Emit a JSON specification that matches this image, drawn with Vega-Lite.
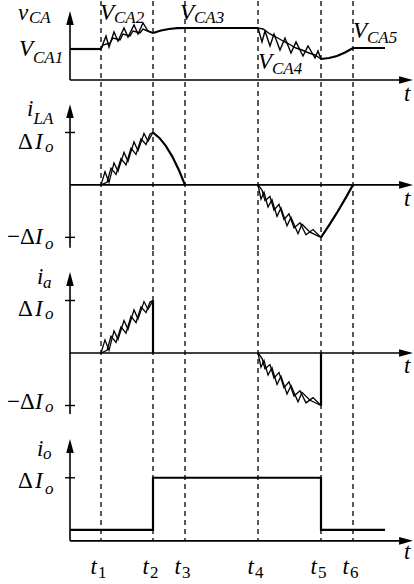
{
  "$schema": "https://vega.github.io/schema/vega-lite/v6.json",
  "padding": 0,
  "spacing": 0,
  "bounds": "flush",
  "background": "white",
  "config": {
    "view": {"stroke": null},
    "text": {"font": "Times New Roman, Liberation Serif, serif", "color": "black", "align": "left", "baseline": "alphabetic"},
    "line": {"color": "black"},
    "rule": {"color": "black"}
  },
  "datasets": {
    "switch_times": [
      {"time": 31, "label": "t1"}, {"time": 83, "label": "t2"}, {"time": 115, "label": "t3"},
      {"time": 188, "label": "t4"}, {"time": 251, "label": "t5"}, {"time": 283, "label": "t6"}
    ],
    "vca_wave": [
      {"s": "a", "k": 0, "time": 0, "v": 3.1}, {"s": "a", "k": 1, "time": 31, "v": 3.1},
      {"s": "b", "k": 0, "time": 83, "v": 4.7}, {"s": "b", "k": 1, "time": 91, "v": 4.95}, {"s": "b", "k": 2, "time": 99, "v": 5.1},
      {"s": "b", "k": 3, "time": 107, "v": 5.18}, {"s": "b", "k": 4, "time": 115, "v": 5.2}, {"s": "b", "k": 5, "time": 188, "v": 5.2},
      {"s": "c", "k": 0, "time": 251, "v": 2.1}, {"s": "c", "k": 1, "time": 259, "v": 2.2}, {"s": "c", "k": 2, "time": 267, "v": 2.4},
      {"s": "c", "k": 3, "time": 275, "v": 2.75}, {"s": "c", "k": 4, "time": 283, "v": 3.2}, {"s": "c", "k": 5, "time": 315, "v": 3.2}
    ],
    "vca_ripple": [
      {"s": "r1", "k": 0, "time": 31, "v": 3.1}, {"s": "r1", "k": 1, "time": 36, "v": 4.4}, {"s": "r1", "k": 2, "time": 39, "v": 3.3},
      {"s": "r1", "k": 3, "time": 44, "v": 4.8}, {"s": "r1", "k": 4, "time": 48, "v": 3.9}, {"s": "r1", "k": 5, "time": 54, "v": 5.2},
      {"s": "r1", "k": 6, "time": 58, "v": 4.3}, {"s": "r1", "k": 7, "time": 64, "v": 5.5}, {"s": "r1", "k": 8, "time": 68, "v": 4.6},
      {"s": "r1", "k": 9, "time": 73, "v": 5.7}, {"s": "r1", "k": 10, "time": 78, "v": 4.9}, {"s": "r1", "k": 11, "time": 83, "v": 4.7},
      {"s": "r2", "k": 0, "time": 31, "v": 3.1}, {"s": "r2", "k": 1, "time": 33, "v": 3.5}, {"s": "r2", "k": 2, "time": 40, "v": 3.7},
      {"s": "r2", "k": 3, "time": 43, "v": 4.2}, {"s": "r2", "k": 4, "time": 50, "v": 4.0}, {"s": "r2", "k": 5, "time": 53, "v": 4.6},
      {"s": "r2", "k": 6, "time": 60, "v": 4.4}, {"s": "r2", "k": 7, "time": 63, "v": 4.9}, {"s": "r2", "k": 8, "time": 70, "v": 4.7},
      {"s": "r2", "k": 9, "time": 73, "v": 5.1}, {"s": "r2", "k": 10, "time": 80, "v": 4.8}, {"s": "r2", "k": 11, "time": 83, "v": 4.7},
      {"s": "f1", "k": 0, "time": 188, "v": 5.2}, {"s": "f1", "k": 1, "time": 192, "v": 3.8}, {"s": "f1", "k": 2, "time": 195, "v": 4.9},
      {"s": "f1", "k": 3, "time": 200, "v": 3.4}, {"s": "f1", "k": 4, "time": 204, "v": 4.6}, {"s": "f1", "k": 5, "time": 210, "v": 3.0},
      {"s": "f1", "k": 6, "time": 215, "v": 4.2}, {"s": "f1", "k": 7, "time": 221, "v": 2.7}, {"s": "f1", "k": 8, "time": 226, "v": 3.8},
      {"s": "f1", "k": 9, "time": 233, "v": 2.4}, {"s": "f1", "k": 10, "time": 238, "v": 3.4}, {"s": "f1", "k": 11, "time": 245, "v": 2.2},
      {"s": "f1", "k": 12, "time": 248, "v": 2.9}, {"s": "f1", "k": 13, "time": 251, "v": 2.1},
      {"s": "f2", "k": 0, "time": 188, "v": 5.2}, {"s": "f2", "k": 1, "time": 193, "v": 5.1}, {"s": "f2", "k": 2, "time": 200, "v": 4.6},
      {"s": "f2", "k": 3, "time": 206, "v": 4.3}, {"s": "f2", "k": 4, "time": 213, "v": 3.9}, {"s": "f2", "k": 5, "time": 219, "v": 3.6},
      {"s": "f2", "k": 6, "time": 226, "v": 3.2}, {"s": "f2", "k": 7, "time": 232, "v": 3.0}, {"s": "f2", "k": 8, "time": 239, "v": 2.7},
      {"s": "f2", "k": 9, "time": 245, "v": 2.5}, {"s": "f2", "k": 10, "time": 251, "v": 2.1}
    ],
    "i_ripple": [
      {"s": "p1", "k": 0, "time": 31, "v": 0}, {"s": "p1", "k": 1, "time": 35, "v": 0.25}, {"s": "p1", "k": 2, "time": 39, "v": 0.05},
      {"s": "p1", "k": 3, "time": 44, "v": 0.42}, {"s": "p1", "k": 4, "time": 48, "v": 0.26}, {"s": "p1", "k": 5, "time": 54, "v": 0.62},
      {"s": "p1", "k": 6, "time": 58, "v": 0.45}, {"s": "p1", "k": 7, "time": 64, "v": 0.82}, {"s": "p1", "k": 8, "time": 68, "v": 0.65},
      {"s": "p1", "k": 9, "time": 74, "v": 0.98}, {"s": "p1", "k": 10, "time": 78, "v": 0.83}, {"s": "p1", "k": 11, "time": 83, "v": 1.0},
      {"s": "p2", "k": 0, "time": 31, "v": 0}, {"s": "p2", "k": 1, "time": 37, "v": 0.05}, {"s": "p2", "k": 2, "time": 41, "v": 0.32},
      {"s": "p2", "k": 3, "time": 46, "v": 0.2}, {"s": "p2", "k": 4, "time": 51, "v": 0.5}, {"s": "p2", "k": 5, "time": 56, "v": 0.38},
      {"s": "p2", "k": 6, "time": 61, "v": 0.7}, {"s": "p2", "k": 7, "time": 66, "v": 0.58}, {"s": "p2", "k": 8, "time": 71, "v": 0.88},
      {"s": "p2", "k": 9, "time": 76, "v": 0.77}, {"s": "p2", "k": 10, "time": 80, "v": 0.97}, {"s": "p2", "k": 11, "time": 83, "v": 1.0},
      {"s": "n1", "k": 0, "time": 188, "v": 0}, {"s": "n1", "k": 1, "time": 191, "v": -0.27}, {"s": "n1", "k": 2, "time": 194, "v": -0.14},
      {"s": "n1", "k": 3, "time": 198, "v": -0.42}, {"s": "n1", "k": 4, "time": 202, "v": -0.28}, {"s": "n1", "k": 5, "time": 207, "v": -0.6},
      {"s": "n1", "k": 6, "time": 211, "v": -0.44}, {"s": "n1", "k": 7, "time": 217, "v": -0.78}, {"s": "n1", "k": 8, "time": 221, "v": -0.62},
      {"s": "n1", "k": 9, "time": 228, "v": -0.93}, {"s": "n1", "k": 10, "time": 232, "v": -0.75}, {"s": "n1", "k": 11, "time": 240, "v": -0.9},
      {"s": "n1", "k": 12, "time": 251, "v": -1.0},
      {"s": "n2", "k": 0, "time": 188, "v": 0}, {"s": "n2", "k": 1, "time": 192, "v": -0.1}, {"s": "n2", "k": 2, "time": 195, "v": -0.3},
      {"s": "n2", "k": 3, "time": 200, "v": -0.22}, {"s": "n2", "k": 4, "time": 204, "v": -0.48}, {"s": "n2", "k": 5, "time": 209, "v": -0.37},
      {"s": "n2", "k": 6, "time": 214, "v": -0.66}, {"s": "n2", "k": 7, "time": 219, "v": -0.55}, {"s": "n2", "k": 8, "time": 224, "v": -0.82},
      {"s": "n2", "k": 9, "time": 230, "v": -0.72}, {"s": "n2", "k": 10, "time": 236, "v": -0.95}, {"s": "n2", "k": 11, "time": 243, "v": -0.85},
      {"s": "n2", "k": 12, "time": 251, "v": -1.0}
    ],
    "ila_wave": [
      {"s": "a", "k": 0, "time": 83, "v": 1.0}, {"s": "a", "k": 1, "time": 89.4, "v": 0.896}, {"s": "a", "k": 2, "time": 95.8, "v": 0.744},
      {"s": "a", "k": 3, "time": 102.2, "v": 0.544}, {"s": "a", "k": 4, "time": 108.6, "v": 0.296}, {"s": "a", "k": 5, "time": 115, "v": 0},
      {"s": "b", "k": 0, "time": 251, "v": -1.0}, {"s": "b", "k": 1, "time": 259, "v": -0.77}, {"s": "b", "k": 2, "time": 267, "v": -0.53},
      {"s": "b", "k": 3, "time": 275, "v": -0.27}, {"s": "b", "k": 4, "time": 283, "v": 0}
    ],
    "ia_wave": [
      {"s": "a", "k": 0, "time": 83, "v": 1.0}, {"s": "a", "k": 1, "time": 83, "v": 0},
      {"s": "b", "k": 0, "time": 251, "v": -1.0}, {"s": "b", "k": 1, "time": 251, "v": 0}
    ],
    "io_wave": [
      {"s": "a", "k": 0, "time": 0, "v": 0.175}, {"s": "a", "k": 1, "time": 83, "v": 0.175}, {"s": "a", "k": 2, "time": 83, "v": 1.0},
      {"s": "a", "k": 3, "time": 251, "v": 1.0}, {"s": "a", "k": 4, "time": 251, "v": 0.175}, {"s": "a", "k": 5, "time": 315, "v": 0.175}
    ],
    "labels": [
      {"panel": 1, "kind": "symbol", "text": "v", "time": -52, "v": 6.05},
      {"panel": 1, "kind": "symbol", "text": "V", "time": -51, "v": 2.4},
      {"panel": 1, "kind": "symbol", "text": "V", "time": 30, "v": 6.05},
      {"panel": 1, "kind": "symbol", "text": "V", "time": 110, "v": 6.05},
      {"panel": 1, "kind": "symbol", "text": "V", "time": 188, "v": 1.1},
      {"panel": 1, "kind": "symbol", "text": "V", "time": 283, "v": 4.2},
      {"panel": 1, "kind": "symbol", "text": "t", "time": 334, "v": -2.05},
      {"panel": 1, "kind": "sub", "text": "CA", "time": -41, "v": 5.7},
      {"panel": 1, "kind": "sub", "text": "CA1", "time": -37, "v": 1.7},
      {"panel": 1, "kind": "sub", "text": "CA2", "time": 44, "v": 5.7},
      {"panel": 1, "kind": "sub", "text": "CA3", "time": 124, "v": 5.7},
      {"panel": 1, "kind": "sub", "text": "CA4", "time": 202, "v": 0.6},
      {"panel": 1, "kind": "sub", "text": "CA5", "time": 297, "v": 3.7},
      {"panel": 2, "kind": "symbol", "text": "i", "time": -43, "v": 1.31},
      {"panel": 2, "kind": "symbol", "text": "I", "time": -35, "v": 0.68},
      {"panel": 2, "kind": "symbol", "text": "I", "time": -35, "v": -1.13},
      {"panel": 2, "kind": "symbol", "text": "t", "time": 334, "v": -0.4},
      {"panel": 2, "kind": "sub", "text": "LA", "time": -36.5, "v": 1.16},
      {"panel": 2, "kind": "sub", "text": "o", "time": -25, "v": 0.63},
      {"panel": 2, "kind": "sub", "text": "o", "time": -25, "v": -1.22},
      {"panel": 2, "kind": "greek", "text": "Δ", "time": -52, "v": 0.68},
      {"panel": 2, "kind": "greek", "text": "−Δ", "time": -63, "v": -1.13},
      {"panel": 3, "kind": "symbol", "text": "i", "time": -33, "v": 1.31},
      {"panel": 3, "kind": "symbol", "text": "I", "time": -35, "v": 0.7},
      {"panel": 3, "kind": "symbol", "text": "I", "time": -35, "v": -1.07},
      {"panel": 3, "kind": "symbol", "text": "t", "time": 334, "v": -0.38},
      {"panel": 3, "kind": "sub", "text": "a", "time": -27, "v": 1.24},
      {"panel": 3, "kind": "sub", "text": "o", "time": -25, "v": 0.65},
      {"panel": 3, "kind": "sub", "text": "o", "time": -25, "v": -1.12},
      {"panel": 3, "kind": "greek", "text": "Δ", "time": -52, "v": 0.7},
      {"panel": 3, "kind": "greek", "text": "−Δ", "time": -63, "v": -1.07},
      {"panel": 4, "kind": "symbol", "text": "i", "time": -33, "v": 1.35},
      {"panel": 4, "kind": "symbol", "text": "I", "time": -35, "v": 0.84},
      {"panel": 4, "kind": "symbol", "text": "t", "time": 20.5, "v": -0.52},
      {"panel": 4, "kind": "symbol", "text": "t", "time": 72.5, "v": -0.52},
      {"panel": 4, "kind": "symbol", "text": "t", "time": 104.5, "v": -0.52},
      {"panel": 4, "kind": "symbol", "text": "t", "time": 177.5, "v": -0.52},
      {"panel": 4, "kind": "symbol", "text": "t", "time": 240.5, "v": -0.52},
      {"panel": 4, "kind": "symbol", "text": "t", "time": 272.5, "v": -0.52},
      {"panel": 4, "kind": "symbol", "text": "t", "time": 334, "v": -0.29},
      {"panel": 4, "kind": "sub", "text": "o", "time": -27, "v": 1.3},
      {"panel": 4, "kind": "sub", "text": "o", "time": -25, "v": 0.75},
      {"panel": 4, "kind": "greek", "text": "Δ", "time": -52, "v": 0.84},
      {"panel": 4, "kind": "index", "text": "1", "time": 28, "v": -0.59},
      {"panel": 4, "kind": "index", "text": "2", "time": 80, "v": -0.59},
      {"panel": 4, "kind": "index", "text": "3", "time": 112, "v": -0.59},
      {"panel": 4, "kind": "index", "text": "4", "time": 185, "v": -0.59},
      {"panel": 4, "kind": "index", "text": "5", "time": 248, "v": -0.59},
      {"panel": 4, "kind": "index", "text": "6", "time": 280, "v": -0.59}
    ]
  },
  "vconcat": [
    {
      "width": 414, "height": 100,
      "layer": [
        {"data": {"name": "switch_times"}, "mark": {"type": "rule", "strokeDash": [5, 4], "strokeWidth": 1.3},
         "encoding": {"x": {"field": "time", "type": "quantitative", "scale": {"domain": [-70, 344], "nice": false, "zero": false}, "axis": null}}},
        {"data": {"values": [{}]}, "mark": {"type": "rule", "strokeWidth": 1.6},
         "encoding": {"x": {"datum": 0, "type": "quantitative", "scale": {"domain": [-70, 344], "nice": false, "zero": false}, "axis": null}, "x2": {"datum": 338},
                      "y": {"datum": 0, "type": "quantitative", "scale": {"domain": [-2.1, 7.9], "nice": false, "zero": false}, "axis": null}}},
        {"data": {"values": [{}]}, "mark": {"type": "rule", "strokeWidth": 1.6},
         "encoding": {"x": {"datum": 0, "type": "quantitative", "scale": {"domain": [-70, 344], "nice": false, "zero": false}, "axis": null},
                      "y": {"datum": 0, "type": "quantitative", "scale": {"domain": [-2.1, 7.9], "nice": false, "zero": false}, "axis": null}, "y2": {"datum": 6.4}}},
        {"data": {"values": [{}]}, "mark": {"type": "point", "shape": "M0,0L-2.2,-0.6L-2.2,0.6Z", "size": 160, "filled": true, "opacity": 1, "color": "black", "strokeWidth": 0},
         "encoding": {"x": {"datum": 343, "type": "quantitative", "scale": {"domain": [-70, 344], "nice": false, "zero": false}, "axis": null},
                      "y": {"datum": 0, "type": "quantitative", "scale": {"domain": [-2.1, 7.9], "nice": false, "zero": false}, "axis": null}}},
        {"data": {"values": [{}]}, "mark": {"type": "point", "shape": "M0,0L0.6,2.2L-0.6,2.2Z", "size": 160, "filled": true, "opacity": 1, "color": "black", "strokeWidth": 0},
         "encoding": {"x": {"datum": 0, "type": "quantitative", "scale": {"domain": [-70, 344], "nice": false, "zero": false}, "axis": null},
                      "y": {"datum": 6.9, "type": "quantitative", "scale": {"domain": [-2.1, 7.9], "nice": false, "zero": false}, "axis": null}}},
        {"data": {"name": "vca_wave"}, "mark": {"type": "line", "strokeWidth": 2.2},
         "encoding": {"x": {"field": "time", "type": "quantitative", "scale": {"domain": [-70, 344], "nice": false, "zero": false}, "axis": null},
                      "y": {"field": "v", "type": "quantitative", "scale": {"domain": [-2.1, 7.9], "nice": false, "zero": false}, "axis": null},
                      "detail": {"field": "s"}, "order": {"field": "k"}}},
        {"data": {"name": "vca_ripple"}, "mark": {"type": "line", "strokeWidth": 1.4},
         "encoding": {"x": {"field": "time", "type": "quantitative", "scale": {"domain": [-70, 344], "nice": false, "zero": false}, "axis": null},
                      "y": {"field": "v", "type": "quantitative", "scale": {"domain": [-2.1, 7.9], "nice": false, "zero": false}, "axis": null},
                      "detail": {"field": "s"}, "order": {"field": "k"}}},
        {"data": {"name": "labels"}, "transform": [{"filter": "datum.panel == 1 && datum.kind == 'symbol'"}],
         "mark": {"type": "text", "fontStyle": "italic", "fontSize": 23},
         "encoding": {"x": {"field": "time", "type": "quantitative", "scale": {"domain": [-70, 344], "nice": false, "zero": false}, "axis": null},
                      "y": {"field": "v", "type": "quantitative", "scale": {"domain": [-2.1, 7.9], "nice": false, "zero": false}, "axis": null},
                      "text": {"field": "text"}}},
        {"data": {"name": "labels"}, "transform": [{"filter": "datum.panel == 1 && datum.kind == 'sub'"}],
         "mark": {"type": "text", "fontStyle": "italic", "fontSize": 17},
         "encoding": {"x": {"field": "time", "type": "quantitative", "scale": {"domain": [-70, 344], "nice": false, "zero": false}, "axis": null},
                      "y": {"field": "v", "type": "quantitative", "scale": {"domain": [-2.1, 7.9], "nice": false, "zero": false}, "axis": null},
                      "text": {"field": "text"}}}
      ]
    },
    {
      "width": 414, "height": 150,
      "layer": [
        {"data": {"name": "switch_times"}, "mark": {"type": "rule", "strokeDash": [5, 4], "strokeWidth": 1.3},
         "encoding": {"x": {"field": "time", "type": "quantitative", "scale": {"domain": [-70, 344], "nice": false, "zero": false}, "axis": null}}},
        {"data": {"values": [{}]}, "mark": {"type": "rule", "strokeWidth": 1.6},
         "encoding": {"x": {"datum": 0, "type": "quantitative", "scale": {"domain": [-70, 344], "nice": false, "zero": false}, "axis": null}, "x2": {"datum": 338},
                      "y": {"datum": 0, "type": "quantitative", "scale": {"domain": [-1.26, 1.6], "nice": false, "zero": false}, "axis": null}}},
        {"data": {"values": [{}]}, "mark": {"type": "rule", "strokeWidth": 1.6},
         "encoding": {"x": {"datum": 0, "type": "quantitative", "scale": {"domain": [-70, 344], "nice": false, "zero": false}, "axis": null},
                      "y": {"datum": -1.2, "type": "quantitative", "scale": {"domain": [-1.26, 1.6], "nice": false, "zero": false}, "axis": null}, "y2": {"datum": 1.45}}},
        {"data": {"values": [{"level": 1}, {"level": -1}]}, "mark": {"type": "rule", "strokeWidth": 1.4},
         "encoding": {"x": {"datum": -5, "type": "quantitative", "scale": {"domain": [-70, 344], "nice": false, "zero": false}, "axis": null}, "x2": {"datum": 5},
                      "y": {"field": "level", "type": "quantitative", "scale": {"domain": [-1.26, 1.6], "nice": false, "zero": false}, "axis": null}}},
        {"data": {"values": [{}]}, "mark": {"type": "point", "shape": "M0,0L-2.2,-0.6L-2.2,0.6Z", "size": 160, "filled": true, "opacity": 1, "color": "black", "strokeWidth": 0},
         "encoding": {"x": {"datum": 343, "type": "quantitative", "scale": {"domain": [-70, 344], "nice": false, "zero": false}, "axis": null},
                      "y": {"datum": 0, "type": "quantitative", "scale": {"domain": [-1.26, 1.6], "nice": false, "zero": false}, "axis": null}}},
        {"data": {"values": [{}]}, "mark": {"type": "point", "shape": "M0,0L0.6,2.2L-0.6,2.2Z", "size": 160, "filled": true, "opacity": 1, "color": "black", "strokeWidth": 0},
         "encoding": {"x": {"datum": 0, "type": "quantitative", "scale": {"domain": [-70, 344], "nice": false, "zero": false}, "axis": null},
                      "y": {"datum": 1.54, "type": "quantitative", "scale": {"domain": [-1.26, 1.6], "nice": false, "zero": false}, "axis": null}}},
        {"data": {"name": "ila_wave"}, "mark": {"type": "line", "strokeWidth": 2.2},
         "encoding": {"x": {"field": "time", "type": "quantitative", "scale": {"domain": [-70, 344], "nice": false, "zero": false}, "axis": null},
                      "y": {"field": "v", "type": "quantitative", "scale": {"domain": [-1.26, 1.6], "nice": false, "zero": false}, "axis": null},
                      "detail": {"field": "s"}, "order": {"field": "k"}}},
        {"data": {"name": "i_ripple"}, "mark": {"type": "line", "strokeWidth": 1.3},
         "encoding": {"x": {"field": "time", "type": "quantitative", "scale": {"domain": [-70, 344], "nice": false, "zero": false}, "axis": null},
                      "y": {"field": "v", "type": "quantitative", "scale": {"domain": [-1.26, 1.6], "nice": false, "zero": false}, "axis": null},
                      "detail": {"field": "s"}, "order": {"field": "k"}}},
        {"data": {"name": "labels"}, "transform": [{"filter": "datum.panel == 2 && datum.kind == 'symbol'"}],
         "mark": {"type": "text", "fontStyle": "italic", "fontSize": 23},
         "encoding": {"x": {"field": "time", "type": "quantitative", "scale": {"domain": [-70, 344], "nice": false, "zero": false}, "axis": null},
                      "y": {"field": "v", "type": "quantitative", "scale": {"domain": [-1.26, 1.6], "nice": false, "zero": false}, "axis": null},
                      "text": {"field": "text"}}},
        {"data": {"name": "labels"}, "transform": [{"filter": "datum.panel == 2 && datum.kind == 'sub'"}],
         "mark": {"type": "text", "fontStyle": "italic", "fontSize": 17},
         "encoding": {"x": {"field": "time", "type": "quantitative", "scale": {"domain": [-70, 344], "nice": false, "zero": false}, "axis": null},
                      "y": {"field": "v", "type": "quantitative", "scale": {"domain": [-1.26, 1.6], "nice": false, "zero": false}, "axis": null},
                      "text": {"field": "text"}}},
        {"data": {"name": "labels"}, "transform": [{"filter": "datum.panel == 2 && datum.kind == 'greek'"}],
         "mark": {"type": "text", "fontSize": 23},
         "encoding": {"x": {"field": "time", "type": "quantitative", "scale": {"domain": [-70, 344], "nice": false, "zero": false}, "axis": null},
                      "y": {"field": "v", "type": "quantitative", "scale": {"domain": [-1.26, 1.6], "nice": false, "zero": false}, "axis": null},
                      "text": {"field": "text"}}}
      ]
    },
    {
      "width": 414, "height": 170,
      "layer": [
        {"data": {"name": "switch_times"}, "mark": {"type": "rule", "strokeDash": [5, 4], "strokeWidth": 1.3},
         "encoding": {"x": {"field": "time", "type": "quantitative", "scale": {"domain": [-70, 344], "nice": false, "zero": false}, "axis": null}}},
        {"data": {"values": [{}]}, "mark": {"type": "rule", "strokeWidth": 1.6},
         "encoding": {"x": {"datum": 0, "type": "quantitative", "scale": {"domain": [-70, 344], "nice": false, "zero": false}, "axis": null}, "x2": {"datum": 338},
                      "y": {"datum": 0, "type": "quantitative", "scale": {"domain": [-1.295, 1.943], "nice": false, "zero": false}, "axis": null}}},
        {"data": {"values": [{}]}, "mark": {"type": "rule", "strokeWidth": 1.6},
         "encoding": {"x": {"datum": 0, "type": "quantitative", "scale": {"domain": [-70, 344], "nice": false, "zero": false}, "axis": null},
                      "y": {"datum": -1.16, "type": "quantitative", "scale": {"domain": [-1.295, 1.943], "nice": false, "zero": false}, "axis": null}, "y2": {"datum": 1.45}}},
        {"data": {"values": [{"level": 1}, {"level": -1}]}, "mark": {"type": "rule", "strokeWidth": 1.4},
         "encoding": {"x": {"datum": -5, "type": "quantitative", "scale": {"domain": [-70, 344], "nice": false, "zero": false}, "axis": null}, "x2": {"datum": 5},
                      "y": {"field": "level", "type": "quantitative", "scale": {"domain": [-1.295, 1.943], "nice": false, "zero": false}, "axis": null}}},
        {"data": {"values": [{}]}, "mark": {"type": "point", "shape": "M0,0L-2.2,-0.6L-2.2,0.6Z", "size": 160, "filled": true, "opacity": 1, "color": "black", "strokeWidth": 0},
         "encoding": {"x": {"datum": 343, "type": "quantitative", "scale": {"domain": [-70, 344], "nice": false, "zero": false}, "axis": null},
                      "y": {"datum": 0, "type": "quantitative", "scale": {"domain": [-1.295, 1.943], "nice": false, "zero": false}, "axis": null}}},
        {"data": {"values": [{}]}, "mark": {"type": "point", "shape": "M0,0L0.6,2.2L-0.6,2.2Z", "size": 160, "filled": true, "opacity": 1, "color": "black", "strokeWidth": 0},
         "encoding": {"x": {"datum": 0, "type": "quantitative", "scale": {"domain": [-70, 344], "nice": false, "zero": false}, "axis": null},
                      "y": {"datum": 1.543, "type": "quantitative", "scale": {"domain": [-1.295, 1.943], "nice": false, "zero": false}, "axis": null}}},
        {"data": {"name": "ia_wave"}, "mark": {"type": "line", "strokeWidth": 2.2},
         "encoding": {"x": {"field": "time", "type": "quantitative", "scale": {"domain": [-70, 344], "nice": false, "zero": false}, "axis": null},
                      "y": {"field": "v", "type": "quantitative", "scale": {"domain": [-1.295, 1.943], "nice": false, "zero": false}, "axis": null},
                      "detail": {"field": "s"}, "order": {"field": "k"}}},
        {"data": {"name": "i_ripple"}, "mark": {"type": "line", "strokeWidth": 1.3},
         "encoding": {"x": {"field": "time", "type": "quantitative", "scale": {"domain": [-70, 344], "nice": false, "zero": false}, "axis": null},
                      "y": {"field": "v", "type": "quantitative", "scale": {"domain": [-1.295, 1.943], "nice": false, "zero": false}, "axis": null},
                      "detail": {"field": "s"}, "order": {"field": "k"}}},
        {"data": {"name": "labels"}, "transform": [{"filter": "datum.panel == 3 && datum.kind == 'symbol'"}],
         "mark": {"type": "text", "fontStyle": "italic", "fontSize": 23},
         "encoding": {"x": {"field": "time", "type": "quantitative", "scale": {"domain": [-70, 344], "nice": false, "zero": false}, "axis": null},
                      "y": {"field": "v", "type": "quantitative", "scale": {"domain": [-1.295, 1.943], "nice": false, "zero": false}, "axis": null},
                      "text": {"field": "text"}}},
        {"data": {"name": "labels"}, "transform": [{"filter": "datum.panel == 3 && datum.kind == 'sub'"}],
         "mark": {"type": "text", "fontStyle": "italic", "fontSize": 17},
         "encoding": {"x": {"field": "time", "type": "quantitative", "scale": {"domain": [-70, 344], "nice": false, "zero": false}, "axis": null},
                      "y": {"field": "v", "type": "quantitative", "scale": {"domain": [-1.295, 1.943], "nice": false, "zero": false}, "axis": null},
                      "text": {"field": "text"}}},
        {"data": {"name": "labels"}, "transform": [{"filter": "datum.panel == 3 && datum.kind == 'greek'"}],
         "mark": {"type": "text", "fontSize": 23},
         "encoding": {"x": {"field": "time", "type": "quantitative", "scale": {"domain": [-70, 344], "nice": false, "zero": false}, "axis": null},
                      "y": {"field": "v", "type": "quantitative", "scale": {"domain": [-1.295, 1.943], "nice": false, "zero": false}, "axis": null},
                      "text": {"field": "text"}}}
      ]
    },
    {
      "width": 414, "height": 164,
      "layer": [
        {"data": {"name": "switch_times"}, "mark": {"type": "rule", "strokeDash": [5, 4], "strokeWidth": 1.3},
         "encoding": {"x": {"field": "time", "type": "quantitative", "scale": {"domain": [-70, 344], "nice": false, "zero": false}, "axis": null},
                      "y": {"datum": 1.9, "type": "quantitative", "scale": {"domain": [-0.7, 1.9], "nice": false, "zero": false}, "axis": null}, "y2": {"datum": 0}}},
        {"data": {"values": [{}]}, "mark": {"type": "rule", "strokeWidth": 1.6},
         "encoding": {"x": {"datum": 0, "type": "quantitative", "scale": {"domain": [-70, 344], "nice": false, "zero": false}, "axis": null}, "x2": {"datum": 338},
                      "y": {"datum": 0, "type": "quantitative", "scale": {"domain": [-0.7, 1.9], "nice": false, "zero": false}, "axis": null}}},
        {"data": {"values": [{}]}, "mark": {"type": "rule", "strokeWidth": 1.6},
         "encoding": {"x": {"datum": 0, "type": "quantitative", "scale": {"domain": [-70, 344], "nice": false, "zero": false}, "axis": null},
                      "y": {"datum": 0, "type": "quantitative", "scale": {"domain": [-0.7, 1.9], "nice": false, "zero": false}, "axis": null}, "y2": {"datum": 1.5}}},
        {"data": {"values": [{"level": 1}]}, "mark": {"type": "rule", "strokeWidth": 1.4},
         "encoding": {"x": {"datum": -5, "type": "quantitative", "scale": {"domain": [-70, 344], "nice": false, "zero": false}, "axis": null}, "x2": {"datum": 5},
                      "y": {"field": "level", "type": "quantitative", "scale": {"domain": [-0.7, 1.9], "nice": false, "zero": false}, "axis": null}}},
        {"data": {"values": [{}]}, "mark": {"type": "point", "shape": "M0,0L-2.2,-0.6L-2.2,0.6Z", "size": 160, "filled": true, "opacity": 1, "color": "black", "strokeWidth": 0},
         "encoding": {"x": {"datum": 343, "type": "quantitative", "scale": {"domain": [-70, 344], "nice": false, "zero": false}, "axis": null},
                      "y": {"datum": 0, "type": "quantitative", "scale": {"domain": [-0.7, 1.9], "nice": false, "zero": false}, "axis": null}}},
        {"data": {"values": [{}]}, "mark": {"type": "point", "shape": "M0,0L0.6,2.2L-0.6,2.2Z", "size": 160, "filled": true, "opacity": 1, "color": "black", "strokeWidth": 0},
         "encoding": {"x": {"datum": 0, "type": "quantitative", "scale": {"domain": [-70, 344], "nice": false, "zero": false}, "axis": null},
                      "y": {"datum": 1.615, "type": "quantitative", "scale": {"domain": [-0.7, 1.9], "nice": false, "zero": false}, "axis": null}}},
        {"data": {"name": "io_wave"}, "mark": {"type": "line", "strokeWidth": 2.2},
         "encoding": {"x": {"field": "time", "type": "quantitative", "scale": {"domain": [-70, 344], "nice": false, "zero": false}, "axis": null},
                      "y": {"field": "v", "type": "quantitative", "scale": {"domain": [-0.7, 1.9], "nice": false, "zero": false}, "axis": null},
                      "detail": {"field": "s"}, "order": {"field": "k"}}},
        {"data": {"name": "labels"}, "transform": [{"filter": "datum.panel == 4 && datum.kind == 'symbol'"}],
         "mark": {"type": "text", "fontStyle": "italic", "fontSize": 23},
         "encoding": {"x": {"field": "time", "type": "quantitative", "scale": {"domain": [-70, 344], "nice": false, "zero": false}, "axis": null},
                      "y": {"field": "v", "type": "quantitative", "scale": {"domain": [-0.7, 1.9], "nice": false, "zero": false}, "axis": null},
                      "text": {"field": "text"}}},
        {"data": {"name": "labels"}, "transform": [{"filter": "datum.panel == 4 && datum.kind == 'sub'"}],
         "mark": {"type": "text", "fontStyle": "italic", "fontSize": 17},
         "encoding": {"x": {"field": "time", "type": "quantitative", "scale": {"domain": [-70, 344], "nice": false, "zero": false}, "axis": null},
                      "y": {"field": "v", "type": "quantitative", "scale": {"domain": [-0.7, 1.9], "nice": false, "zero": false}, "axis": null},
                      "text": {"field": "text"}}},
        {"data": {"name": "labels"}, "transform": [{"filter": "datum.panel == 4 && datum.kind == 'greek'"}],
         "mark": {"type": "text", "fontSize": 23},
         "encoding": {"x": {"field": "time", "type": "quantitative", "scale": {"domain": [-70, 344], "nice": false, "zero": false}, "axis": null},
                      "y": {"field": "v", "type": "quantitative", "scale": {"domain": [-0.7, 1.9], "nice": false, "zero": false}, "axis": null},
                      "text": {"field": "text"}}},
        {"data": {"name": "labels"}, "transform": [{"filter": "datum.panel == 4 && datum.kind == 'index'"}],
         "mark": {"type": "text", "fontSize": 17},
         "encoding": {"x": {"field": "time", "type": "quantitative", "scale": {"domain": [-70, 344], "nice": false, "zero": false}, "axis": null},
                      "y": {"field": "v", "type": "quantitative", "scale": {"domain": [-0.7, 1.9], "nice": false, "zero": false}, "axis": null},
                      "text": {"field": "text"}}}
      ]
    }
  ]
}
